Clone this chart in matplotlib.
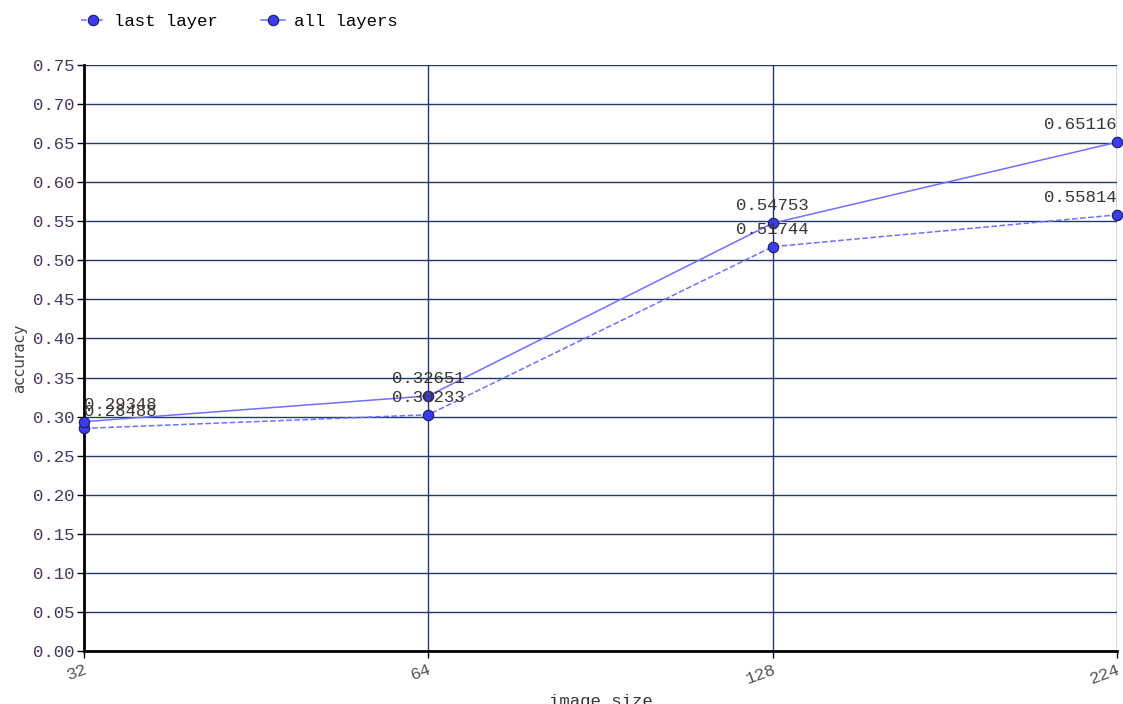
import numpy as np
import matplotlib.pyplot as plt
import matplotlib

matplotlib.rcParams.update({'font.family': ['Liberation Mono', 'DejaVu Sans Mono'],
                            'font.size': 12.5})

sizes = ['32', '64', '128', '224']
last_layer = [0.28488, 0.30233, 0.51744, 0.55814]
all_layers = [0.29348, 0.32651, 0.54753, 0.65116]

line_c = '#7070ff'
face_c = '#3b3bf0'
edge_c = '#1c1c55'
grid_c = '#1f3a68'

fig = plt.figure(figsize=(11.23, 7.04), dpi=100)
ax = fig.add_axes([0.0748, 0.0753, 0.9199, 0.8324])

xs = np.arange(len(sizes))
ax.plot(xs, last_layer, ls='--', c=line_c, lw=1.1, marker='o', ms=7.5,
        mfc=face_c, mec=edge_c, mew=0.8, label='last layer', clip_on=False, zorder=3)
ax.plot(xs, all_layers, ls='-', c=line_c, lw=1.1, marker='o', ms=7.5,
        mfc=face_c, mec=edge_c, mew=0.8, label='all layers', clip_on=False, zorder=3)

for series in (last_layer, all_layers):
    for i, v in enumerate(series):
        ha = 'left' if i == 0 else ('right' if i == len(series) - 1 else 'center')
        ax.annotate(f'{v:.5f}', (xs[i], v), xytext=(0, 7), textcoords='offset points',
                    ha=ha, va='bottom', color='#3a3530', fontsize=12.5, zorder=4)

ax.set_xlim(0, len(sizes) - 1)
ax.set_ylim(0, 0.75)
ax.set_yticks(np.arange(0, 0.751, 0.05))
ax.set_yticklabels([f'{t:.2f}' for t in np.arange(0, 0.751, 0.05)], color='#4a3560')
ax.set_xticks(xs)
ax.set_xticklabels(sizes, rotation=20, color='#555555', ha='right', rotation_mode='anchor')
ax.tick_params(axis='y', length=5, width=1, pad=2)
ax.tick_params(axis='x', length=5, width=1, pad=3)

ax.grid(True, color=grid_c, lw=1)
ax.set_axisbelow(True)
for s in ('top', 'right'):
    ax.spines[s].set_visible(False)
for s in ('left', 'bottom'):
    ax.spines[s].set_linewidth(2)
    ax.spines[s].set_color('black')
    ax.spines[s].set_zorder(2.5)

ax.set_ylabel('accuracy', family='DejaVu Sans', color='#444444', fontsize=11, labelpad=4)
ax.set_xlabel('image size', color='#333333', labelpad=5)

ax.legend(loc='lower left', bbox_to_anchor=(-0.01, 1.05), ncol=2, frameon=False,
          handlelength=1.4, columnspacing=2.5, handletextpad=0.5, borderaxespad=0)

fig.savefig('out.png', dpi=100)
